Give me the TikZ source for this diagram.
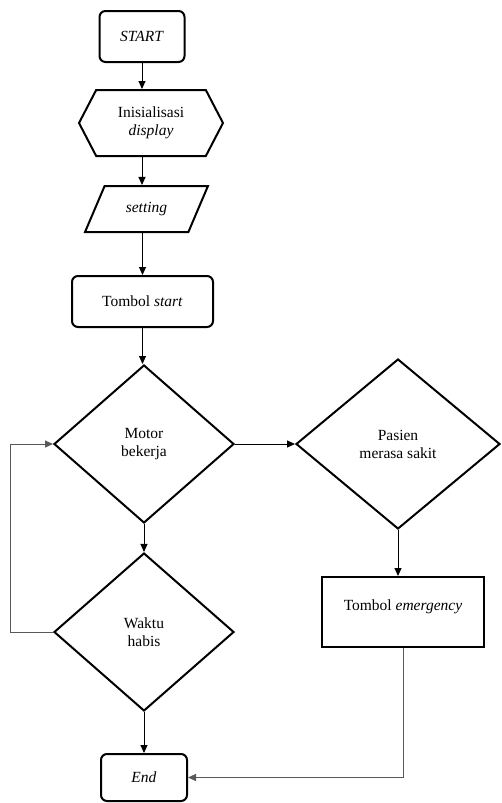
\documentclass[tikz,border=0pt]{standalone}
\usepackage{fontspec}
\setmainfont{Liberation Serif}
\usetikzlibrary{shapes.geometric,shapes.symbols,arrows.meta}

\tikzset{
  box/.style={draw, line width=2pt, rounded corners=6pt, align=center},
  decision/.style={draw, diamond, line width=2pt, align=center, inner sep=0pt},
  flow/.style={line width=1pt, -{Triangle[length=8pt,width=7pt]}}
}

\begin{document}
\begin{tikzpicture}[x=1pt, y=-1pt, font=\fontsize{15.5}{18}\selectfont, text=black]
\useasboundingbox (0,0) rectangle (501,803);
\node[box, minimum width=85pt, minimum height=51pt] (start) at (142,36.5) {\textit{START}};
\node[draw, line width=2pt, signal, signal to=west and east, signal pointer angle=125,
  minimum width=144pt, minimum height=66pt, align=center, inner sep=1pt] (init) at (151,123) {Inisialisasi\\\textit{display}};
\node[draw, line width=2pt, trapezium, trapezium left angle=61, trapezium right angle=119,
  trapezium stretches=true, minimum width=123pt, minimum height=46pt] (setting) at (146.5,209) {\textit{setting}};
\node[box, minimum width=141pt, minimum height=51pt] (tstart) at (142.5,301.5) {Tombol \textit{start}};
\node[decision, minimum width=180pt, minimum height=158pt] (motor) at (144,444) {Motor\\bekerja};
\node[decision, minimum width=204pt, minimum height=170pt] (pasien) at (398,444) {Pasien\\merasa sakit};
\node[decision, minimum width=180pt, minimum height=158pt] (waktu) at (144,632) {Waktu\\habis};
\node[draw, line width=2pt, minimum width=162pt, minimum height=70pt, text depth=14pt] (emerg) at (403,612) {Tombol \textit{emergency}};
\node[box, minimum width=86pt, minimum height=47pt] (end) at (144,777.5) {\textit{End}};

\draw[flow] (start.south) -- (start.south |- init.north);
\draw[flow] (start.south |- init.south) -- (start.south |- setting.north);
\draw[flow] (tstart.north |- setting.south) -- (tstart.north);
\draw[flow] (tstart.south) -- (tstart.south |- motor.north);
\draw[flow] (motor) -- (waktu);
\draw[flow] (motor.east) -- (pasien.west);
\draw[flow] (pasien.south) -- (pasien.south |- emerg.north);
\draw[flow] (waktu) -- (end);
\draw[flow, black!65] (emerg.south) |- (end.east);
\draw[flow, black!65] (waktu.west) -- ++(-43,0) |- (motor.west);
\end{tikzpicture}
\end{document}
